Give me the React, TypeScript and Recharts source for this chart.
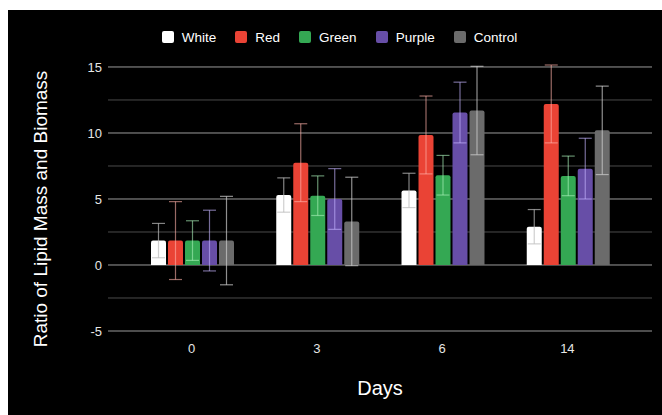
import React from 'react';
import {
  BarChart,
  Bar,
  XAxis,
  YAxis,
  CartesianGrid,
  Legend,
  ErrorBar,
} from 'recharts';

const days = ['0', '3', '6', '14'];
const white = [1.85, 5.3, 5.65, 2.9];
const red = [1.85, 7.75, 9.85, 12.2];
const green = [1.85, 5.25, 6.8, 6.75];
const purple = [1.85, 5.0, 11.55, 7.3];
const control = [1.85, 3.3, 11.7, 10.2];
const errors = { White: 1.3, Red: 2.95, Green: 1.5, Purple: 2.3, Control: 3.35 };
const yTicks = [-5, 0, 5, 10, 15];
const minorTicks = [-2.5, 2.5, 7.5, 12.5];

const series = [
  { key: 'White', fill: '#ffffff', err: '#bbbbbb', errOpacity: 0.7 },
  { key: 'Red', fill: '#ea4335', err: '#ffb0a8', errOpacity: 0.6 },
  { key: 'Green', fill: '#34a853', err: '#a8f0b8', errOpacity: 0.6 },
  { key: 'Purple', fill: '#674ea7', err: '#c4b4ff', errOpacity: 0.6 },
  { key: 'Control', fill: '#6b6b6b', err: '#cccccc', errOpacity: 0.7 },
];

const data = days.map((d, i) => ({
  day: d,
  White: white[i],
  Red: red[i],
  Green: green[i],
  Purple: purple[i],
  Control: control[i],
  WhiteErr: errors.White,
  RedErr: errors.Red,
  GreenErr: errors.Green,
  PurpleErr: errors.Purple,
  ControlErr: errors.Control,
}));

const FONT = '"Liberation Sans", Arial, sans-serif';

// legend keeps the series order (recharts sorts payload by name)
const renderLegend = () => (
  <div
    style={{
      display: 'flex',
      justifyContent: 'center',
      alignItems: 'center',
      height: 20,
      paddingLeft: 28,
      fontFamily: FONT,
      fontSize: 13.5,
      color: '#ffffff',
    }}
  >
    {series.map((s) => (
      <div key={s.key} style={{ display: 'flex', alignItems: 'center', marginRight: 19 }}>
        <span
          style={{
            display: 'inline-block',
            width: 12,
            height: 12,
            borderRadius: 2,
            background: s.fill,
            marginRight: 8,
          }}
        />
        <span>{s.key}</span>
      </div>
    ))}
  </div>
);

const YLabel = (props: any) => {
  const { viewBox } = props;
  const cy = viewBox.y + viewBox.height / 2 + 11;
  return (
    <text
      x={32}
      y={cy}
      transform={`rotate(-90, 32, ${cy})`}
      textAnchor="middle"
      dominantBaseline="central"
      fill="#ffffff"
      fontSize={19}
      fontFamily={FONT}
    >
      Ratio of Lipid Mass and Biomass
    </text>
  );
};

const XLabel = (props: any) => {
  const { viewBox } = props;
  return (
    <text
      x={viewBox.x + viewBox.width / 2}
      y={378}
      textAnchor="middle"
      dominantBaseline="central"
      fill="#ffffff"
      fontSize={20}
      fontFamily={FONT}
    >
      Days
    </text>
  );
};

const App: React.FC = () => {
  return (
    <div
      style={{
        position: 'fixed',
        left: 8,
        top: 10,
        width: 654,
        height: 405,
        background: '#000000',
      }}
    >
      <BarChart
        width={654}
        height={405}
        data={data}
        margin={{ top: 35, right: 10, left: 0, bottom: 24 }}
        barCategoryGap={22}
        barGap={2}
      >
        <CartesianGrid
          vertical={false}
          horizontalValues={minorTicks}
          stroke="#4a4a4a"
          strokeWidth={1}
        />
        <CartesianGrid
          vertical={false}
          horizontalValues={yTicks}
          stroke="#9a9a9a"
          strokeWidth={1}
        />
        <XAxis
          dataKey="day"
          axisLine={false}
          tickLine={false}
          tickSize={0}
          tickMargin={13}
          height={60}
          padding={{ left: 21, right: 22 }}
          tick={{ fill: '#e6e6e6', fontSize: 13, fontFamily: FONT }}
          label={<XLabel />}
        />
        <YAxis
          domain={[-5, 15]}
          ticks={yTicks}
          width={100}
          axisLine={false}
          tickLine={false}
          tickSize={0}
          tickMargin={6}
          tick={{ fill: '#e6e6e6', fontSize: 13, fontFamily: FONT }}
          label={<YLabel />}
        />
        <Legend
          verticalAlign="top"
          wrapperStyle={{ top: 17, left: 0, width: 654 }}
          content={renderLegend}
        />
        {series.map((s) => (
          <Bar
            key={s.key}
            dataKey={s.key}
            fill={s.fill}
            radius={[2, 2, 0, 0]}
            isAnimationActive={false}
          >
            <ErrorBar
              dataKey={`${s.key}Err`}
              width={6.5}
              stroke={s.err}
              strokeOpacity={s.errOpacity}
              strokeWidth={1.2}
              direction="y"
            />
          </Bar>
        ))}
      </BarChart>
    </div>
  );
};

export default App;
